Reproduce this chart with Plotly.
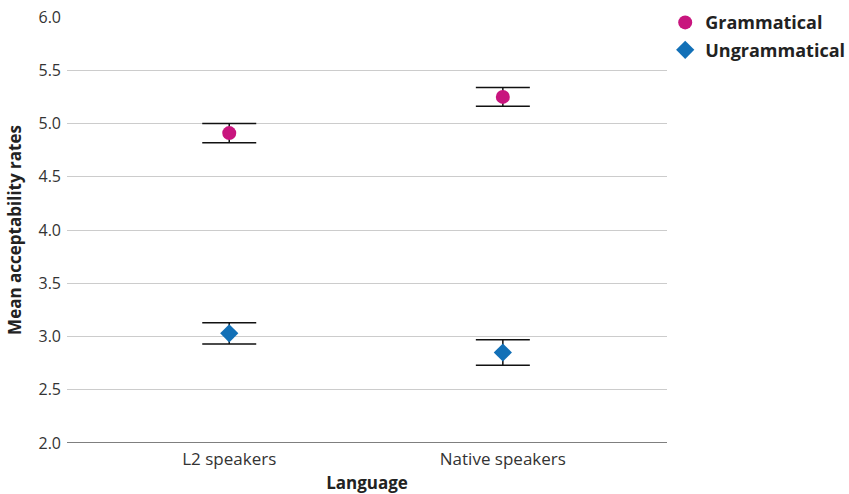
import plotly.graph_objects as go

# Group labels on the x axis
languages = ["L2 speakers", "Native speakers"]
x_pos = [0, 1]

# Mean acceptability ratings with their error margins
grammatical_mean = [4.91, 5.25]
grammatical_err = [0.09, 0.087]
ungrammatical_mean = [3.03, 2.85]
ungrammatical_err = [0.10, 0.12]

y_ticks = [2.0, 2.5, 3.0, 3.5, 4.0, 4.5, 5.0, 5.5, 6.0]

FONT = "Open Sans, Noto Sans, sans-serif"
PINK = "#C8157E"
BLUE = "#1270B7"

fig = go.Figure()

fig.add_trace(go.Scatter(
    x=x_pos, y=grammatical_mean, mode="markers", name="Grammatical",
    legendgroup="g",
    marker=dict(symbol="circle", size=14, color=PINK),
    error_y=dict(type="data", array=grammatical_err, color="#111111",
                 thickness=1.5, width=27),
))
fig.add_trace(go.Scatter(
    x=x_pos, y=ungrammatical_mean, mode="markers", name="Ungrammatical",
    legendgroup="u",
    marker=dict(symbol="diamond", size=14, color=BLUE),
    error_y=dict(type="data", array=ungrammatical_err, color="#111111",
                 thickness=1.5, width=27),
))

fig.update_layout(
    width=849, height=494,
    margin=dict(l=67, r=182, t=17, b=51, autoexpand=False),
    plot_bgcolor="white", paper_bgcolor="white",
    font=dict(family=FONT, color="#333333", size=15),
    showlegend=True,
    legend=dict(
        x=0.997, xanchor="left", y=1.03, yanchor="top",
        xref="paper", yref="paper",
        font=dict(family=FONT, size=18, color="#222222", weight="bold"),
        itemwidth=30, tracegroupgap=1,
        bgcolor="rgba(0,0,0,0)",
    ),
    xaxis=dict(
        range=[-0.593, 1.6],
        tickmode="array", tickvals=x_pos, ticktext=languages,
        showgrid=False, zeroline=False,
        showline=False,
        ticks="", ticklabelstandoff=4,
        tickfont=dict(size=17, color="#333333"),
        title=dict(text="Language", standoff=9,
                   font=dict(size=17, color="#222222", weight="bold")),
    ),
    yaxis=dict(
        range=[2.0, 6.0],
        tickmode="array", tickvals=y_ticks,
        ticktext=[f"{v:.1f}" for v in y_ticks],
        showgrid=True, gridcolor="#cccccc", gridwidth=1,
        zeroline=False, showline=False,
        ticks="", ticklen=0, ticklabelstandoff=5,
        tickfont=dict(size=16, color="#333333"),
        title=dict(text="Mean acceptability rates", standoff=12,
                   font=dict(size=17, color="#222222", weight="bold")),
    ),
)

# Dark baseline along the bottom of the plotting area
fig.add_shape(type="line", xref="paper", yref="y", x0=0, x1=1, y0=2.0, y1=2.0,
              line=dict(color="#555555", width=1.5), layer="below")

fig.write_html("out.html")
